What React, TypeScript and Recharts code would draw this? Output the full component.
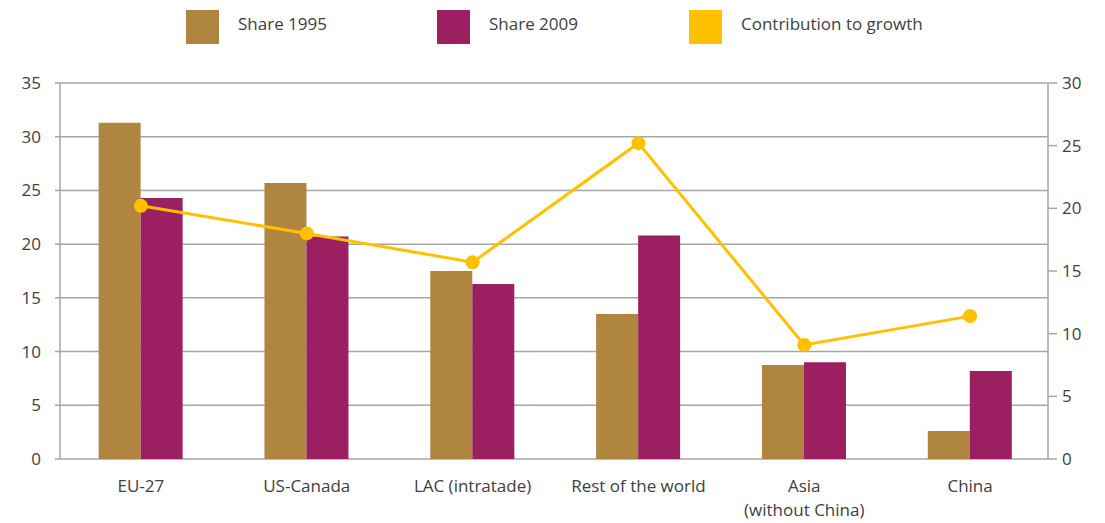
import React from 'react';
import {
    ComposedChart, Bar, Line, XAxis, YAxis, CartesianGrid
} from 'recharts';

// --- DATA ---
const regions = ['EU-27', 'US-Canada', 'LAC (intratade)', 'Rest of the world', 'Asia\n(without China)', 'China'];
const share1995 = [31.3, 25.7, 17.5, 13.5, 8.75, 2.6];
const share2009 = [24.3, 20.7, 16.3, 20.8, 9.0, 8.2];
const contribution = [20.2, 18.0, 15.7, 25.2, 9.1, 11.4];
const leftTicks = [0, 5, 10, 15, 20, 25, 30, 35];
const rightTicks = [0, 5, 10, 15, 20, 25, 30];

// --- COLORS ---
const C1995 = '#B08540';
const C2009 = '#9C1F62';
const CLINE = '#FFC000';
const TEXT = '#404040';
const GRID = '#A6A6A6';
const FONT = '"Open Sans", Lato, sans-serif';

const chartData = regions.map((name, i) => ({
    name,
    s1995: share1995[i],
    s2009: share2009[i],
    growth: contribution[i],
}));

const legendItems = [
    { label: 'Share 1995', color: C1995, x: 186, tx: 238 },
    { label: 'Share 2009', color: C2009, x: 437, tx: 489 },
    { label: 'Contribution to growth', color: CLINE, x: 689, tx: 741 },
];

const ChartLegend = () => (
    <div style={{ position: 'absolute', left: 0, top: 0, width: 1105, height: 60 }}>
        {legendItems.map(item => (
            <React.Fragment key={item.label}>
                <div style={{ position: 'absolute', left: item.x, top: 10, width: 33, height: 34, background: item.color }} />
                <div style={{ position: 'absolute', left: item.tx, top: 12, fontFamily: FONT, fontWeight: 400, fontSize: 17, lineHeight: '24px', color: TEXT, whiteSpace: 'nowrap' }}>
                    {item.label}
                </div>
            </React.Fragment>
        ))}
    </div>
);

const CategoryTick = ({ x, y, payload }: any) => {
    const lines = String(payload.value).split('\n');
    return (
        <text x={x} y={y} textAnchor="middle" fill={TEXT} fontFamily={FONT} fontWeight={400} fontSize={17}>
            {lines.map((l, i) => (
                <tspan key={i} x={x} dy={i === 0 ? 25 : 24}>{l}</tspan>
            ))}
        </text>
    );
};

const tickStyle = { fill: TEXT, fontFamily: FONT, fontWeight: 400, fontSize: 17 };

export default function App() {
    return (
        <div style={{ position: 'absolute', left: 0, top: 0, width: 1105, height: 523, background: '#fff' }}>
            <ComposedChart
                width={1105}
                height={523}
                data={chartData}
                margin={{ top: 83, right: 0, left: 0, bottom: 0 }}
                barCategoryGap="24.5%"
                barGap={0}
            >
                <CartesianGrid yAxisId="left" horizontal vertical={false} stroke={GRID} strokeWidth={1.5} />
                <XAxis
                    dataKey="name"
                    height={64}
                    axisLine={false}
                    tickLine={false}
                    interval={0}
                    padding={{ left: -2, right: -5 }}
                    tick={<CategoryTick />}
                />
                <YAxis
                    yAxisId="left"
                    width={60}
                    domain={[0, 35]}
                    ticks={leftTicks}
                    axisLine={{ stroke: GRID, strokeWidth: 1.5 }}
                    tickLine={{ stroke: GRID, strokeWidth: 1.5 }}
                    tickSize={5}
                    tickMargin={14}
                    tick={tickStyle}
                />
                <YAxis
                    yAxisId="right"
                    orientation="right"
                    width={57}
                    domain={[0, 30]}
                    ticks={rightTicks}
                    axisLine={{ stroke: GRID, strokeWidth: 1.5 }}
                    tickLine={{ stroke: GRID, strokeWidth: 1.5 }}
                    tickSize={9}
                    tickMargin={5}
                    tick={tickStyle}
                />
                <Bar yAxisId="left" dataKey="s1995" name="Share 1995" fill={C1995} isAnimationActive={false} />
                <Bar yAxisId="left" dataKey="s2009" name="Share 2009" fill={C2009} isAnimationActive={false} />
                <Line
                    yAxisId="right"
                    dataKey="growth"
                    name="Contribution to growth"
                    type="linear"
                    stroke={CLINE}
                    strokeWidth={3}
                    dot={{ r: 7, fill: CLINE, stroke: CLINE, strokeWidth: 0 }}
                    isAnimationActive={false}
                />
            </ComposedChart>
            <ChartLegend />
        </div>
    );
}
